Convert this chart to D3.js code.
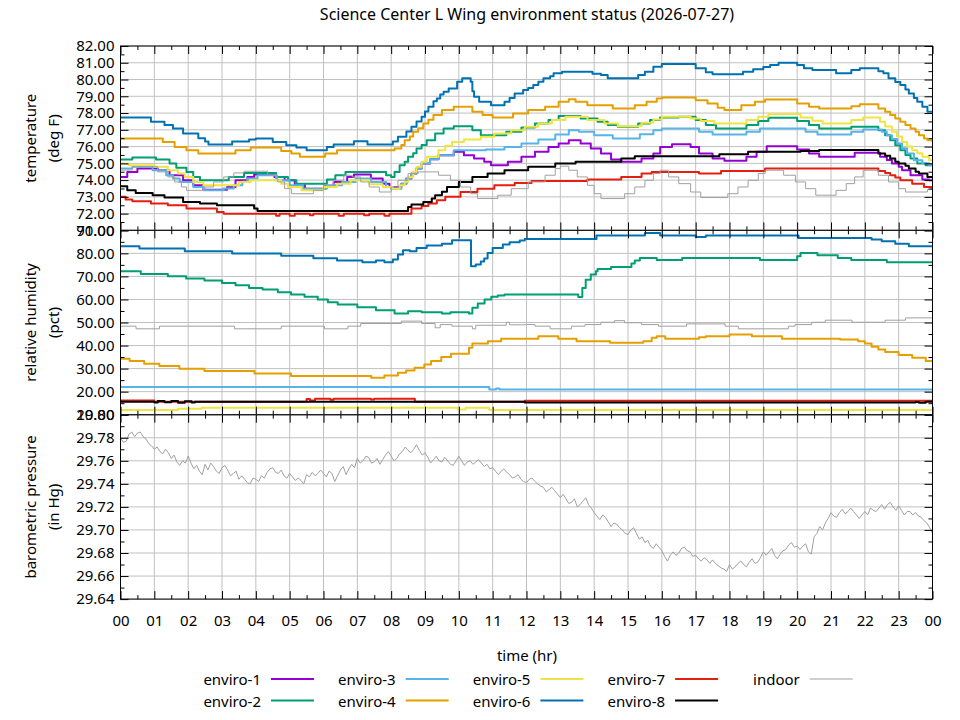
<!DOCTYPE html>
<html>
<head>
<meta charset="utf-8">
<script src="https://cdn.jsdelivr.net/npm/d3@7"></script>
<style>
  body { margin: 0; background: #fff; }
  text { font-family: "Noto Sans", sans-serif; }
</style>
</head>
<body>
<svg id="chart" width="960" height="720"></svg>
<script>
// series names and colours (legend order)
const seriesNames = ['enviro-1', 'enviro-2', 'enviro-3', 'enviro-4', 'enviro-5', 'enviro-6', 'enviro-7', 'enviro-8', 'indoor'];
const seriesColors = ['#9400d3', '#009e73', '#56b4e9', '#e69f00', '#f0e442', '#0072b2', '#e51e10', '#000000', '#a0a0a0'];

// tick labels
const hourLabels = ['00','01','02','03','04','05','06','07','08','09','10','11','12','13','14','15','16','17','18','19','20','21','22','23','00'];
const tempTicks = [71, 72, 73, 74, 75, 76, 77, 78, 79, 80, 81, 82];
const rhTicks = [10, 20, 30, 40, 50, 60, 70, 80, 90];
const pressTicks = [29.64, 29.66, 29.68, 29.70, 29.72, 29.74, 29.76, 29.78, 29.80];

// temperature (deg F), [hour, value] change points
const temp1 = [[0,74.19],[0.2,74.49],[0.5,74.69],[1.1,74.59],[1.45,74.29],[1.85,73.99],[2.15,73.69],[2.45,73.43],[3.15,73.59],[3.4,73.99],[3.75,74.19],[3.95,74.33],[4.55,74.19],[4.85,73.99],[5.15,73.69],[5.45,73.49],[6.05,73.65],[6.3,73.89],[6.7,74.19],[6.9,74.33],[7.4,74.09],[7.75,73.79],[7.95,73.59],[8.3,73.79],[8.45,74.1],[8.6,74.39],[8.75,74.7],[8.9,74.99],[9.15,75.25],[9.4,75.49],[9.85,75.69],[10.15,75.49],[10.45,75.29],[10.75,75.09],[10.95,74.89],[11.45,75.09],[11.85,75.39],[12.25,75.69],[12.65,75.98],[12.95,76.18],[13.25,76.38],[13.6,76.18],[13.9,75.88],[14.2,75.59],[14.5,75.23],[14.8,75.09],[15.4,75.29],[15.75,75.59],[15.95,75.98],[16.3,76.14],[16.85,75.98],[17.1,75.59],[17.5,75.29],[17.85,75.15],[18.5,75.39],[18.8,75.69],[19.1,76.02],[20.0,75.82],[20.35,75.59],[20.65,75.39],[21.7,75.63],[22.45,75.39],[22.65,75.2],[22.8,74.99],[23.0,74.79],[23.1,74.59],[23.35,74.29],[23.7,74.03],[23.9,73.99],[24,73.99]];
const temp2 = [[0,75.23],[0.35,75.35],[1.05,75.23],[1.45,74.99],[1.65,74.73],[1.95,74.49],[2.15,74.19],[2.35,73.99],[3.2,74.19],[3.65,74.43],[4.6,74.19],[4.95,73.99],[5.2,73.79],[6.1,74.03],[6.35,74.29],[6.65,74.49],[7.85,74.29],[8.0,74.19],[8.1,74.49],[8.25,74.89],[8.4,75.1],[8.5,75.39],[8.65,75.6],[8.75,75.88],[8.9,76.1],[9.05,76.38],[9.3,76.78],[9.55,77.08],[9.85,77.22],[10.4,76.98],[10.65,76.68],[11.4,76.88],[11.85,77.14],[12.25,77.38],[12.65,77.58],[12.95,77.82],[13.6,77.68],[14.1,77.48],[14.4,77.28],[14.7,77.18],[15.3,77.38],[15.65,77.58],[15.95,77.74],[16.5,77.78],[17.0,77.58],[17.3,77.28],[17.6,77.08],[18.5,77.28],[18.85,77.52],[19.15,77.72],[20.0,77.52],[20.35,77.28],[20.65,77.08],[21.6,77.18],[22.4,76.98],[22.6,76.68],[22.75,76.38],[22.9,76.08],[23.05,75.78],[23.2,75.5],[23.35,75.29],[23.55,74.99],[23.8,74.89],[24,74.89]];
const temp3 = [[0,74.69],[0.35,74.79],[0.95,74.59],[1.35,74.29],[1.55,74.09],[1.75,73.89],[2.15,73.59],[2.45,73.39],[3.05,73.5],[3.35,73.69],[3.6,73.9],[3.75,74.09],[4.05,74.29],[4.6,73.99],[5.0,73.69],[5.4,73.49],[6.1,73.69],[6.55,73.89],[6.95,74.09],[7.4,73.89],[7.85,73.59],[8.0,73.49],[8.3,73.79],[8.45,74.1],[8.6,74.39],[8.75,74.7],[8.9,74.99],[9.15,75.25],[9.4,75.49],[9.85,75.78],[10.8,75.82],[11.35,75.98],[11.85,76.18],[12.35,76.42],[12.85,76.72],[13.25,76.98],[13.55,76.88],[14.0,76.68],[14.55,76.48],[15.35,76.74],[15.75,76.98],[16.0,77.08],[17.1,76.88],[17.5,76.72],[18.5,76.88],[18.9,77.08],[20.25,76.88],[20.6,76.72],[21.6,76.88],[21.95,77.02],[22.5,76.88],[22.65,76.68],[22.8,76.45],[22.95,76.18],[23.1,75.9],[23.25,75.59],[23.45,75.19],[23.7,75.0],[23.9,74.89],[24,74.89]];
const temp4 = [[0,76.48],[1.25,76.28],[1.6,75.98],[1.95,75.78],[2.3,75.59],[3.4,75.78],[3.85,75.94],[4.75,75.74],[5.05,75.59],[5.3,75.39],[6.05,75.59],[6.4,75.78],[8.1,75.88],[8.3,76.1],[8.4,76.38],[8.55,76.6],[8.65,76.88],[8.8,77.1],[8.95,77.38],[9.1,77.6],[9.25,77.88],[9.5,78.18],[9.85,78.37],[10.4,78.08],[10.7,77.88],[11.0,77.74],[11.6,77.98],[12.05,78.18],[12.55,78.37],[12.95,78.67],[13.25,78.83],[13.45,78.67],[13.8,78.47],[14.55,78.27],[15.2,78.47],[15.55,78.67],[15.85,78.87],[16.0,78.93],[17.0,78.77],[17.35,78.57],[17.65,78.31],[17.85,78.18],[18.35,78.47],[18.75,78.67],[19.05,78.81],[20.0,78.57],[20.35,78.37],[20.65,78.27],[21.6,78.41],[21.85,78.53],[22.4,78.27],[22.6,78.08],[22.75,77.88],[22.9,77.68],[23.05,77.48],[23.2,77.28],[23.35,77.08],[23.5,76.88],[23.6,76.68],[23.75,76.48],[23.85,76.38],[24,76.28]];
const temp5 = [[0,74.97],[0.25,74.89],[1.0,74.79],[1.4,74.59],[1.7,74.39],[1.9,74.19],[2.15,73.89],[2.45,73.69],[3.5,73.89],[3.85,73.99],[4.75,73.79],[4.95,73.59],[5.35,73.39],[6.0,73.59],[6.4,73.79],[6.8,73.99],[7.35,73.75],[7.75,73.59],[8.05,73.49],[8.25,73.69],[8.4,73.9],[8.5,74.19],[8.65,74.5],[8.75,74.79],[8.9,75.1],[9.05,75.39],[9.4,75.78],[9.6,76.05],[9.8,76.28],[10.15,76.42],[10.65,76.58],[11.05,76.78],[11.55,76.98],[11.95,77.18],[12.35,77.38],[12.75,77.58],[13.15,77.78],[13.8,77.58],[14.3,77.38],[14.7,77.22],[15.4,77.42],[15.75,77.62],[16.0,77.78],[16.85,77.68],[17.15,77.52],[17.55,77.38],[18.5,77.58],[18.85,77.78],[19.15,77.94],[20.1,77.74],[20.45,77.54],[20.75,77.38],[21.6,77.58],[21.95,77.74],[22.45,77.48],[22.6,77.2],[22.8,76.88],[22.95,76.6],[23.1,76.28],[23.25,76.0],[23.4,75.78],[23.55,75.6],[23.7,75.39],[23.9,75.19],[24,75.19]];
const temp6 = [[0,77.74],[0.9,77.48],[1.3,77.28],[1.55,77.08],[1.85,76.78],[2.3,76.5],[2.5,76.3],[2.6,76.12],[3.3,76.3],[3.8,76.42],[4.0,76.48],[4.5,76.28],[4.9,76.08],[5.2,75.94],[5.5,75.78],[6.1,75.98],[6.3,76.12],[6.9,76.32],[7.3,76.12],[8.05,76.3],[8.2,76.58],[8.45,76.9],[8.6,77.18],[8.75,77.5],[8.9,77.78],[9.0,78.1],[9.1,78.37],[9.25,78.7],[9.35,78.87],[9.45,79.1],[9.55,79.27],[9.7,79.47],[9.95,79.87],[10.1,80.07],[10.35,79.87],[10.4,79.3],[10.45,78.97],[10.6,78.67],[10.95,78.47],[11.35,78.67],[11.5,78.9],[11.65,79.17],[11.9,79.37],[12.05,79.5],[12.2,79.67],[12.35,79.87],[12.5,80.07],[12.7,80.2],[12.8,80.37],[13.05,80.47],[13.95,80.35],[14.2,80.27],[14.4,80.07],[15.3,80.27],[15.5,80.47],[15.75,80.76],[16.0,80.92],[17.0,80.67],[17.3,80.43],[17.5,80.31],[18.4,80.47],[18.7,80.61],[19.0,80.75],[19.2,80.86],[19.45,81.0],[20.0,80.86],[20.2,80.67],[20.45,80.57],[21.15,80.37],[21.6,80.57],[21.85,80.67],[22.4,80.5],[22.55,80.37],[22.7,80.07],[22.9,79.85],[23.05,79.67],[23.2,79.4],[23.3,79.17],[23.45,78.9],[23.55,78.67],[23.7,78.37],[23.85,78.08],[24,77.98]];
const temp7 = [[0,73.0],[0.15,72.84],[0.35,72.74],[0.9,72.6],[1.4,72.5],[1.95,72.3],[2.85,72.1],[3.05,72.0],[4.6,71.88],[4.7,72.0],[5.0,71.88],[5.15,72.0],[5.6,71.9],[5.7,72.0],[6.45,71.88],[6.6,72.0],[7.2,71.9],[7.35,72.0],[7.8,71.88],[7.95,72.0],[8.6,72.3],[8.9,72.45],[9.1,72.6],[9.35,72.8],[9.6,73.0],[10.05,73.29],[10.55,73.49],[11.05,73.69],[11.65,73.83],[12.15,73.95],[13.8,74.03],[14.8,74.19],[15.4,74.39],[15.7,74.49],[17.1,74.39],[17.75,74.55],[19.05,74.69],[22.4,74.55],[22.6,74.42],[22.75,74.29],[22.9,74.15],[23.05,73.99],[23.4,73.79],[23.75,73.59],[24,73.49]];
const temp8 = [[0,73.63],[0.2,73.39],[0.45,73.23],[0.95,73.1],[1.3,72.96],[1.85,72.7],[2.35,72.6],[2.85,72.5],[3.95,72.3],[4.05,72.16],[8.5,72.4],[8.6,72.55],[8.95,72.7],[9.2,72.9],[9.3,73.1],[9.5,73.3],[9.65,73.59],[10.0,73.89],[10.4,74.19],[10.85,74.39],[11.35,74.59],[12.05,74.79],[12.85,74.99],[13.45,75.09],[14.8,75.29],[15.2,75.43],[17.7,75.55],[18.55,75.69],[20.1,75.73],[20.65,75.79],[22.4,75.59],[22.6,75.45],[22.75,75.29],[22.9,75.1],[23.0,74.99],[23.2,74.85],[23.3,74.69],[23.5,74.5],[23.6,74.39],[23.85,74.19],[24,74.1]];
const tempIndoor = [[0,74.6],[0.35,74.8],[1.1,74.49],[1.4,74.19],[1.6,73.89],[1.8,73.59],[1.95,73.39],[2.5,73.59],[2.75,73.89],[3.05,74.19],[3.35,74.43],[3.65,74.53],[4.35,74.29],[4.65,73.89],[4.85,73.49],[5.05,73.19],[5.7,73.39],[6.0,73.69],[6.3,73.99],[6.6,74.29],[6.85,74.19],[7.1,73.89],[7.35,73.59],[7.65,73.29],[8.0,73.59],[8.2,73.99],[8.5,74.39],[8.8,74.49],[9.4,74.29],[9.75,73.99],[10.05,73.59],[10.35,73.19],[10.55,72.9],[11.15,73.1],[11.55,73.49],[12.05,73.89],[12.55,74.29],[12.85,74.69],[13.0,74.83],[13.25,74.59],[13.5,74.19],[13.8,73.69],[14.0,73.19],[14.2,72.9],[14.9,73.19],[15.2,73.59],[15.5,73.99],[15.75,74.39],[15.95,74.59],[16.2,74.19],[16.5,73.79],[16.85,73.29],[17.15,72.96],[17.95,73.19],[18.25,73.59],[18.55,73.99],[18.85,74.39],[19.05,74.59],[19.6,74.29],[19.95,73.89],[20.25,73.49],[20.55,73.1],[21.15,73.39],[21.45,73.79],[21.7,74.19],[21.95,74.59],[22.4,74.29],[22.7,73.89],[23.0,73.49],[23.2,73.29],[23.85,73.43],[24,73.43]];

// relative humidity (pct), [hour, value] change points (enviro-1 reports none)
const rh1 = [];
const rh2 = [[0,72.24],[0.6,71.08],[1.4,70.07],[1.94,69.06],[2.48,68.2],[3.0,67.18],[3.4,66.17],[3.8,65.0],[4.2,64.3],[4.65,63.14],[5.04,62.1],[5.44,61.12],[5.83,59.96],[6.13,58.8],[6.42,57.8],[7.0,56.6],[7.55,55.3],[8.1,53.9],[8.5,54.9],[8.9,54.47],[9.5,53.9],[9.75,54.47],[10.3,53.9],[10.4,56.35],[10.56,58.2],[10.76,59.96],[10.96,61.12],[11.15,61.7],[11.35,62.13],[13.53,61.1],[13.65,65.0],[13.75,68.6],[13.9,70.8],[14.05,72.24],[14.1,73.25],[14.5,74.1],[15.1,75.56],[15.2,76.86],[15.35,78.0],[15.85,77.15],[16.6,78.0],[18.9,77.15],[20.0,78.7],[20.1,80.18],[20.6,79.17],[21.2,78.0],[21.6,77.15],[22.65,76.14],[24,76.14]];
const rh3 = [[0,21.98],[10.9,20.97],[11.1,21.4],[11.2,20.97],[24,20.97]];
const rh4 = [[0,34.26],[0.27,33.25],[0.7,32.1],[1.15,31.08],[1.74,29.93],[2.48,28.92],[3.96,27.9],[5.04,26.75],[7.41,26.03],[7.8,27.04],[8.2,28.2],[8.44,29.2],[8.69,30.36],[8.98,31.8],[9.18,33.25],[9.48,34.98],[9.77,36.42],[10.3,39.0],[10.4,40.9],[10.86,41.9],[11.25,42.92],[12.35,44.08],[12.94,42.92],[13.48,41.9],[14.47,41.2],[15.45,41.9],[15.7,43.35],[15.85,44.08],[16.1,42.92],[17.1,43.6],[17.3,44.08],[18.0,44.8],[18.66,44.08],[19.55,42.92],[21.27,42.63],[21.8,41.9],[22.0,40.9],[22.2,39.46],[22.4,38.3],[22.6,37.15],[23.0,35.85],[23.4,34.7],[23.8,33.25],[24,33.25]];
const rh5 = [[0,12.02],[1.7,12.6],[2.4,13.03],[9.97,12.3],[10.2,13.03],[10.9,12.02],[24,12.02]];
const rh6 = [[0,83.07],[0.56,82.06],[1.9,80.9],[3.3,79.9],[4.75,79.0],[5.7,77.87],[6.4,76.86],[7.15,76.14],[7.55,76.86],[7.8,76.14],[8.05,77.3],[8.2,79.46],[8.35,81.3],[8.55,80.9],[8.75,82.35],[9.05,83.36],[9.5,84.2],[9.8,85.67],[10.36,74.4],[10.5,75.13],[10.65,76.5],[10.75,77.8],[10.85,80.2],[11.0,82.35],[11.3,83.8],[11.5,84.8],[11.8,85.6],[11.95,86.25],[14.07,87.7],[15.5,88.84],[15.95,87.7],[17.0,87.1],[17.3,87.7],[20.04,86.68],[22.2,85.96],[22.5,85.23],[22.9,84.2],[23.3,83.07],[24,83.07]];
const rh7 = [[0,16.2],[1.0,15.6],[5.5,16.8],[5.6,16.2],[5.75,16.9],[6.2,16.5],[6.3,16.9],[7.4,16.6],[7.5,16.9],[8.7,15.6],[11.95,16.06],[24,16.06]];
const rh8 = [[0,15.6],[1.0,15.3],[1.1,15.9],[1.3,15.4],[1.5,15.9],[1.7,15.2],[1.9,15.8],[2.1,15.3],[2.2,15.6],[11.95,15.34],[23.5,15.5],[23.6,15.2],[23.8,15.6],[24,15.34]];
const rhIndoor = [[0,48.41],[0.46,47.26],[1.15,48.41],[3.37,47.26],[4.75,48.41],[6.03,47.26],[6.72,48.41],[7.1,49.57],[8.3,50.6],[8.9,49.57],[9.3,47.7],[9.45,49.1],[9.8,48.41],[10.4,47.26],[10.5,48.8],[11.4,50.1],[11.5,49.0],[12.0,49.1],[12.25,48.41],[12.7,47.26],[13.33,48.41],[13.73,49.1],[14.2,50.1],[14.6,50.8],[14.9,49.9],[15.4,49.1],[15.9,48.41],[16.73,49.4],[17.87,48.41],[18.26,47.26],[19.74,48.41],[19.94,49.1],[20.43,50.1],[20.83,51.0],[21.62,50.1],[22.6,51.0],[23.2,52.0],[24,52.0]];

// barometric pressure (in Hg), indoor sensor, one reading every 5 minutes from 00:00 (one row per hour)
const pressureMinutesStep = 5;
const pressureIndoor = [
  29.780, 29.776, 29.777, 29.783, 29.785, 29.781, 29.784, 29.785, 29.781, 29.779, 29.775, 29.773,
  29.770, 29.772, 29.768, 29.766, 29.770, 29.767, 29.762, 29.765, 29.759, 29.756, 29.760, 29.758,
  29.764, 29.758, 29.753, 29.756, 29.751, 29.748, 29.757, 29.752, 29.758, 29.755, 29.751, 29.749,
  29.754, 29.756, 29.752, 29.747, 29.749, 29.751, 29.744, 29.747, 29.744, 29.741, 29.740, 29.745,
  29.744, 29.742, 29.747, 29.745, 29.750, 29.753, 29.754, 29.750, 29.749, 29.752, 29.747, 29.745,
  29.749, 29.746, 29.743, 29.745, 29.743, 29.740, 29.748, 29.746, 29.750, 29.747, 29.749, 29.752,
  29.749, 29.746, 29.751, 29.749, 29.742, 29.747, 29.752, 29.755, 29.748, 29.753, 29.757, 29.754,
  29.762, 29.758, 29.760, 29.764, 29.763, 29.758, 29.759, 29.762, 29.757, 29.761, 29.765, 29.768,
  29.764, 29.760, 29.762, 29.766, 29.768, 29.772, 29.769, 29.767, 29.770, 29.774, 29.769, 29.765,
  29.767, 29.763, 29.758, 29.761, 29.764, 29.760, 29.759, 29.763, 29.760, 29.757, 29.756, 29.760,
  29.764, 29.760, 29.756, 29.759, 29.760, 29.757, 29.759, 29.761, 29.758, 29.755, 29.757, 29.753,
  29.754, 29.751, 29.748, 29.751, 29.753, 29.750, 29.748, 29.745, 29.746, 29.748, 29.744, 29.742,
  29.741, 29.744, 29.745, 29.742, 29.740, 29.738, 29.737, 29.733, 29.735, 29.737, 29.734, 29.731,
  29.728, 29.731, 29.727, 29.723, 29.724, 29.727, 29.720, 29.722, 29.725, 29.728, 29.722, 29.719,
  29.715, 29.712, 29.709, 29.713, 29.711, 29.707, 29.703, 29.706, 29.705, 29.702, 29.700, 29.697,
  29.696, 29.700, 29.702, 29.697, 29.692, 29.694, 29.689, 29.691, 29.686, 29.684, 29.688, 29.685,
  29.682, 29.677, 29.673, 29.678, 29.681, 29.678, 29.680, 29.684, 29.685, 29.682, 29.681, 29.677,
  29.678, 29.675, 29.673, 29.676, 29.674, 29.671, 29.674, 29.671, 29.669, 29.667, 29.666, 29.664,
  29.670, 29.666, 29.668, 29.671, 29.673, 29.670, 29.668, 29.672, 29.675, 29.671, 29.672, 29.676,
  29.681, 29.678, 29.681, 29.684, 29.678, 29.675, 29.679, 29.682, 29.683, 29.687, 29.689, 29.685,
  29.686, 29.683, 29.686, 29.688, 29.681, 29.679, 29.694, 29.697, 29.703, 29.700, 29.706, 29.710,
  29.715, 29.712, 29.711, 29.715, 29.718, 29.714, 29.716, 29.719, 29.716, 29.713, 29.710, 29.713,
  29.716, 29.713, 29.719, 29.717, 29.716, 29.719, 29.722, 29.718, 29.722, 29.724, 29.720, 29.717,
  29.721, 29.717, 29.713, 29.716, 29.716, 29.713, 29.715, 29.712, 29.711, 29.708, 29.706, 29.702,
  29.697
];

// -----------------------------------------------

const svg = d3.select('#chart');
const plotLeft = 120.5, plotRight = 932.5;
const panelTops = [46, 230.3, 414.7];
const panelH = 184.4;

const x = d3.scaleLinear().domain([0, 24]).range([plotLeft, plotRight]);
const hours = hourLabels.map((d, i) => i);
const halfHours = hours.slice(1).map((h) => h - 0.5);

const panels = [
  { label: ['temperature', '(deg F)'], ticks: tempTicks,
    series: [temp1, temp2, temp3, temp4, temp5, temp6, temp7, temp8, tempIndoor], step: true },
  { label: ['relative humidity', '(pct)'], ticks: rhTicks,
    series: [rh1, rh2, rh3, rh4, rh5, rh6, rh7, rh8, rhIndoor], step: true },
  { label: ['barometric pressure', '(in Hg)'], ticks: pressTicks,
    series: [[], [], [], [], [], [], [], [], pressureIndoor.map((v, i) => [i * pressureMinutesStep / 60, v])], step: false },
];

svg.append('text')
  .attr('x', 527).attr('y', 14)
  .attr('text-anchor', 'middle').attr('dominant-baseline', 'central')
  .attr('font-size', 16)
  .text('Science Center L Wing environment status (2026-07-27)');

panels.forEach((p, pi) => {
  const top = panelTops[pi];
  const bottom = top + panelH;
  const y = d3.scaleLinear().domain(d3.extent(p.ticks)).range([bottom, top]);
  const minor = p.ticks.slice(1).map((t, i) => (t + p.ticks[i]) / 2);
  const g = svg.append('g');

  // grid
  g.append('g').attr('stroke', '#c0c0c0').attr('stroke-width', 1)
    .call((gg) => gg.selectAll('line.h').data(p.ticks).join('line')
      .attr('x1', plotLeft).attr('x2', plotRight)
      .attr('y1', (d) => y(d)).attr('y2', (d) => y(d)))
    .call((gg) => gg.selectAll('line.v').data(hours).join('line')
      .attr('x1', (d) => x(d)).attr('x2', (d) => x(d))
      .attr('y1', top).attr('y2', bottom));

  // series
  svg.append('clipPath').attr('id', 'clip' + pi)
    .append('rect').attr('x', plotLeft).attr('y', top)
    .attr('width', plotRight - plotLeft).attr('height', panelH);

  const line = d3.line()
    .x((d) => x(d[0]))
    .y((d) => y(d[1]))
    .curve(p.step ? d3.curveStepAfter : d3.curveLinear);

  g.append('g').attr('clip-path', `url(#clip${pi})`)
    .selectAll('path')
    .data(p.series.map((s, i) => ({ s, i })).filter((d) => d.s.length))
    .join('path')
    .attr('fill', 'none')
    .attr('stroke', (d) => seriesColors[d.i])
    .attr('stroke-width', (d) => (d.i === 8 ? 1 : 2))
    .attr('stroke-linejoin', 'round')
    .attr('d', (d) => line(d.s));

  // ticks on all four sides, pointing inward
  const axisStyle = (gg) => {
    gg.select('.domain').remove();
    gg.selectAll('line').attr('stroke', '#000');
    gg.selectAll('text').attr('font-size', 15).attr('fill', '#000')
      .attr('font-family', '"Noto Sans", sans-serif');
  };
  g.append('g').attr('transform', `translate(${plotLeft},0)`)
    .call(d3.axisLeft(y).tickValues(p.ticks).tickSize(-8).tickPadding(6).tickFormat(d3.format('.2f')))
    .call(axisStyle);
  g.append('g').attr('transform', `translate(${plotLeft},0)`)
    .call(d3.axisLeft(y).tickValues(minor).tickSize(-4).tickFormat(''))
    .call(axisStyle);
  g.append('g').attr('transform', `translate(${plotRight},0)`)
    .call(d3.axisRight(y).tickValues(p.ticks).tickSize(-8).tickFormat(''))
    .call(axisStyle);
  g.append('g').attr('transform', `translate(${plotRight},0)`)
    .call(d3.axisRight(y).tickValues(minor).tickSize(-4).tickFormat(''))
    .call(axisStyle);
  g.append('g').attr('transform', `translate(0,${top})`)
    .call(d3.axisTop(x).tickValues(hours).tickSize(-8).tickFormat(''))
    .call(axisStyle);
  g.append('g').attr('transform', `translate(0,${top})`)
    .call(d3.axisTop(x).tickValues(halfHours).tickSize(-4).tickFormat(''))
    .call(axisStyle);
  g.append('g').attr('transform', `translate(0,${bottom})`)
    .call(d3.axisBottom(x).tickValues(hours).tickSize(-8).tickPadding(16)
      .tickFormat(pi === panels.length - 1 ? (d, i) => hourLabels[i] : ''))
    .call(axisStyle);
  g.append('g').attr('transform', `translate(0,${bottom})`)
    .call(d3.axisBottom(x).tickValues(halfHours).tickSize(-4).tickFormat(''))
    .call(axisStyle);

  // border
  g.append('rect')
    .attr('x', plotLeft).attr('y', top)
    .attr('width', plotRight - plotLeft).attr('height', panelH)
    .attr('fill', 'none').attr('stroke', '#000').attr('stroke-width', 1);

  // y label, two lines
  const cy = (top + bottom) / 2;
  p.label.forEach((t, li) => {
    svg.append('text')
      .attr('transform', `translate(${li === 0 ? 30 : 53},${cy}) rotate(-90)`)
      .attr('text-anchor', 'middle').attr('dominant-baseline', 'central')
      .attr('font-size', 15)
      .text(t);
  });
});

svg.append('text')
  .attr('x', 527).attr('y', 655)
  .attr('text-anchor', 'middle').attr('dominant-baseline', 'central')
  .attr('font-size', 15)
  .text('time (hr)');

// legend: 2 rows, column-major
const legend = svg.append('g');
seriesNames.forEach((name, i) => {
  const col = Math.floor(i / 2), row = i % 2;
  const tx = 261 + col * 134.7;
  const ty = row === 0 ? 679 : 700.5;
  legend.append('text')
    .attr('x', tx).attr('y', ty)
    .attr('text-anchor', 'end').attr('dominant-baseline', 'central')
    .attr('font-size', 15)
    .text(name);
  legend.append('line')
    .attr('x1', tx + 10).attr('x2', tx + 53)
    .attr('y1', ty).attr('y2', ty)
    .attr('stroke', seriesColors[i])
    .attr('stroke-width', i === 8 ? 1 : 2);
});
</script>
</body>
</html>
